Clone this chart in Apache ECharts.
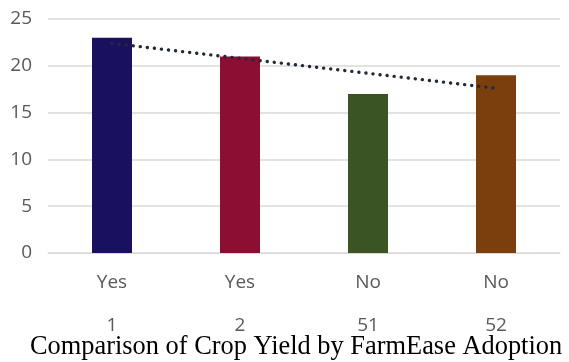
<!DOCTYPE html>
<html>
<head>
<meta charset="utf-8">
<script src="https://cdn.jsdelivr.net/npm/echarts@6/dist/echarts.min.js"></script>
<style>
  html, body { margin: 0; padding: 0; background: #ffffff; }
  #chart { width: 569px; height: 362px; }
</style>
</head>
<body>
<div id="chart"></div>
<script>
// Crop yield per farm, grouped by FarmEase adoption
const adoption = ['Yes', 'Yes', 'No', 'No'];
const farmIds = ['1', '2', '51', '52'];
const cropYield = [23, 21, 17, 19];
const barColors = ['#1a1060', '#8c0f33', '#3a5424', '#7b3f0e'];
const yTicks = [0, 5, 10, 15, 20, 25];

// Linear trend fitted over the category positions
function linearTrend(values) {
  const n = values.length;
  const xs = values.map((_, i) => i + 1);
  const mx = xs.reduce((a, b) => a + b, 0) / n;
  const my = values.reduce((a, b) => a + b, 0) / n;
  let sxy = 0, sxx = 0;
  for (let i = 0; i < n; i++) {
    sxy += (xs[i] - mx) * (values[i] - my);
    sxx += (xs[i] - mx) * (xs[i] - mx);
  }
  const slope = sxy / sxx;
  return xs.map(x => +(my + slope * (x - mx)).toFixed(3));
}
const trend = linearTrend(cropYield);

const chart = echarts.init(document.getElementById('chart'), null, { renderer: 'canvas' });
const labelFont = '"Open Sans", "Noto Sans", sans-serif';

chart.setOption({
  animation: false,
  backgroundColor: '#ffffff',
  title: {
    text: 'Comparison of Crop Yield by FarmEase Adoption',
    left: 30,
    top: 334,
    padding: 0,
    textStyle: {
      fontFamily: '"Liberation Serif", "Times New Roman", serif',
      fontWeight: 'normal',
      fontSize: 26.4,
      color: '#000000'
    }
  },
  grid: { left: 48, right: 9, top: 19, bottom: 109 },
  xAxis: {
    type: 'category',
    data: adoption.map((a, i) => a + '\n' + farmIds[i]),
    axisLine: { show: true, lineStyle: { color: '#d9d9d9', width: 1 } },
    axisTick: { show: false },
    axisLabel: {
      margin: 19,
      formatter: function (v) {
        const parts = v.split('\n');
        return '{a|' + parts[0] + '}\n{b|' + parts[1] + '}';
      },
      rich: {
        a: { fontFamily: labelFont, fontSize: 19, color: '#595959', lineHeight: 22 },
        b: { fontFamily: labelFont, fontSize: 19, color: '#595959', lineHeight: 64 }
      }
    }
  },
  yAxis: {
    type: 'value',
    min: yTicks[0],
    max: yTicks[yTicks.length - 1],
    interval: 5,
    axisLine: { show: false },
    axisTick: { show: false },
    splitLine: { lineStyle: { color: '#d9d9d9', width: 1.5 } },
    axisLabel: {
      margin: 16,
      fontFamily: labelFont,
      fontSize: 19,
      color: '#595959'
    }
  },
  series: [
    {
      type: 'bar',
      barWidth: 40,
      data: cropYield.map((v, i) => ({ value: v, itemStyle: { color: barColors[i] } })),
      z: 2
    },
    {
      type: 'line',
      data: trend,
      symbol: 'none',
      z: 3,
      lineStyle: {
        color: '#252a3a',
        width: 3.4,
        type: [0.1, 7],
        cap: 'round'
      }
    }
  ]
});
</script>
</body>
</html>
